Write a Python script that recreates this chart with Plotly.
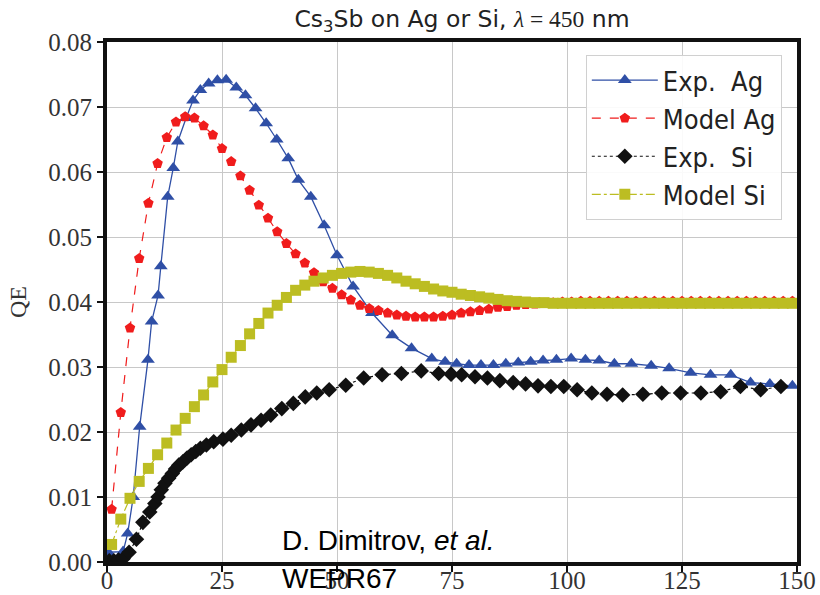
import plotly.graph_objects as go

# ---------------- data ----------------
exp_ag_x = [0.3, 3.5, 4.5, 5.7, 7.1, 8.9, 9.7, 11.1, 11.7, 13.2, 14.4, 15.4, 17.2, 18.7,
            20.3, 22.1, 24.0, 25.9, 28.1, 30.1, 32.3, 34.6, 36.9, 39.4, 41.6, 44.3, 47.2,
            50.0, 53.5, 57.6, 62.0, 66.2, 70.6, 73.5, 76.0, 78.7, 81.3, 84.0, 86.7, 89.4,
            92.1, 94.8, 97.7, 100.9, 104.0, 107.0, 110.3, 114.0, 118.3, 122.2, 126.9,
            131.2, 135.6, 139.9, 144.1, 149.0]
exp_ag_y = [0.0015, 0.0016, 0.0044, 0.0100, 0.0208, 0.0311, 0.0370, 0.0410, 0.0455, 0.0562,
            0.0606, 0.0647, 0.0683, 0.0710, 0.0726, 0.0736, 0.0741, 0.0742, 0.0730, 0.0718,
            0.0698, 0.0675, 0.0650, 0.0621, 0.0588, 0.0562, 0.0518, 0.0472, 0.0424, 0.0383,
            0.0349, 0.0329, 0.0313, 0.0308, 0.0305, 0.0303, 0.0303, 0.0303, 0.0305, 0.0307,
            0.0308, 0.0310, 0.0311, 0.0313, 0.0311, 0.0310, 0.0305, 0.0305, 0.0302, 0.0298,
            0.0291, 0.0288, 0.0288, 0.0276, 0.0274, 0.0271]

model_x = list(range(1, 150, 2))
model_ag_y = [0.0081, 0.0230, 0.0360, 0.0467, 0.0552, 0.0613, 0.0653, 0.0677, 0.0685, 0.0683,
              0.0671, 0.0657, 0.0636, 0.0616, 0.0594, 0.0572, 0.0549, 0.0529, 0.0508, 0.0490,
              0.0474, 0.0460, 0.0445, 0.0431, 0.0421, 0.0411, 0.0403, 0.0395, 0.0390, 0.0387,
              0.0383, 0.0380, 0.0378, 0.0377, 0.0377, 0.0377, 0.0378, 0.0380, 0.0383, 0.0385,
              0.0387, 0.0389, 0.0392, 0.0393, 0.0395, 0.0396, 0.0397, 0.0398, 0.0399, 0.0400,
              0.0400, 0.0401, 0.0401, 0.0401, 0.0401, 0.0401, 0.0401, 0.0401, 0.0401, 0.0401,
              0.0401, 0.0401, 0.0401, 0.0401, 0.0401, 0.0401, 0.0401, 0.0401, 0.0401, 0.0401,
              0.0401, 0.0401, 0.0401, 0.0401, 0.0401]
model_si_y = [0.0027, 0.0066, 0.0098, 0.0124, 0.0144, 0.0165, 0.0183, 0.0203, 0.0221, 0.0239,
              0.0257, 0.0277, 0.0296, 0.0315, 0.0333, 0.0351, 0.0367, 0.0383, 0.0395, 0.0407,
              0.0418, 0.0426, 0.0432, 0.0437, 0.0441, 0.0444, 0.0446, 0.0447, 0.0446, 0.0444,
              0.0441, 0.0437, 0.0432, 0.0428, 0.0424, 0.0420, 0.0417, 0.0415, 0.0412, 0.0410,
              0.0408, 0.0406, 0.0404, 0.0402, 0.0401, 0.0400, 0.0399, 0.0399, 0.0398, 0.0398,
              0.0398, 0.0398, 0.0398, 0.0398, 0.0398, 0.0398, 0.0398, 0.0398, 0.0398, 0.0398,
              0.0398, 0.0398, 0.0398, 0.0398, 0.0398, 0.0398, 0.0398, 0.0398, 0.0398, 0.0398,
              0.0398, 0.0398, 0.0398, 0.0398, 0.0398]

exp_si_x = [0.5, 1.5, 2.5, 3.5, 4.8, 6.4, 7.8, 9.3, 10.4, 11.1, 11.8, 12.6, 13.4, 14.2, 14.9,
            15.6, 16.5, 17.4, 18.3, 19.3, 20.3, 21.6, 23.2, 25.2, 27.0, 29.2, 31.3, 33.5,
            35.6, 38.0, 40.5, 43.1, 45.6, 48.3, 51.9, 55.8, 59.8, 64.0, 68.3, 72.1, 74.8,
            77.1, 80.0, 82.7, 85.4, 88.3, 91.0, 93.7, 96.5, 99.3, 102.2, 105.4, 108.7,
            112.1, 116.5, 120.6, 124.7, 129.1, 133.4, 137.7, 142.1, 146.5]
exp_si_y = [0.0002, 0.0002, 0.0003, 0.0005, 0.0015, 0.0035, 0.0061, 0.0077, 0.0090, 0.0100,
            0.0111, 0.0121, 0.0129, 0.0136, 0.0143, 0.0149, 0.0154, 0.0160, 0.0165, 0.0170,
            0.0175, 0.0180, 0.0185, 0.0189, 0.0195, 0.0203, 0.0211, 0.0218, 0.0226, 0.0236,
            0.0244, 0.0254, 0.0260, 0.0265, 0.0272, 0.0283, 0.0288, 0.0290, 0.0294, 0.0290,
            0.0289, 0.0288, 0.0285, 0.0283, 0.0279, 0.0276, 0.0274, 0.0271, 0.0270, 0.0270,
            0.0265, 0.0260, 0.0258, 0.0257, 0.0258, 0.0260, 0.0260, 0.0260, 0.0262, 0.0270,
            0.0265, 0.0270]

x_ticks = [0, 25, 50, 75, 100, 125, 150]
y_ticks = [0.00, 0.01, 0.02, 0.03, 0.04, 0.05, 0.06, 0.07, 0.08]
y_tick_labels = ["0.00", "0.01", "0.02", "0.03", "0.04", "0.05", "0.06", "0.07", "0.08"]

serif = "Liberation Serif, DejaVu Serif, serif"
sans_c = "DejaVu Sans Condensed, Liberation Sans Narrow, DejaVu Sans, sans-serif"
sans = "DejaVu Sans, sans-serif"

title_text = ("Cs<sub>3</sub>Sb on Ag or Si, "
              "<span style=\"font-family:'Liberation Serif'\"><i>λ</i> = 450</span> nm")

# ---------------- figure ----------------
BLUE = "#2f4fa6"
RED = "#f01c1c"
BLACK = "#111111"
OLIVE = "#bcbd22"

fig = go.Figure()
fig.add_trace(go.Scatter(
    x=exp_ag_x, y=exp_ag_y, name="Exp.  Ag", mode="lines+markers",
    line=dict(color=BLUE, width=1.3, dash="solid"),
    marker=dict(symbol="triangle-up", size=12, color=BLUE)))
fig.add_trace(go.Scatter(
    x=model_x, y=model_ag_y, name="Model Ag", mode="lines+markers",
    line=dict(color=RED, width=1.2, dash="dash"),
    marker=dict(symbol="pentagon", size=11, color=RED)))
fig.add_trace(go.Scatter(
    x=exp_si_x, y=exp_si_y, name="Exp.  Si", mode="lines+markers",
    line=dict(color=BLACK, width=1.2, dash="dot"),
    marker=dict(symbol="diamond", size=12, color=BLACK)))
fig.add_trace(go.Scatter(
    x=model_x, y=model_si_y, name="Model Si", mode="lines+markers",
    line=dict(color=OLIVE, width=1.2, dash="dashdot"),
    marker=dict(symbol="square", size=11, color=OLIVE)))

fig.update_layout(
    width=820, height=595,
    margin=dict(l=107, r=23, t=42, b=33, autoexpand=False),
    paper_bgcolor="white", plot_bgcolor="white",
    title=dict(text=title_text, x=462 / 820, xanchor="center",
               y=1 - 19 / 595, yanchor="middle",
               font=dict(family=sans, size=23.5, color="#222222")),
    showlegend=True,
    legend=dict(x=0.978, y=0.975, xanchor="right", yanchor="top",
                bgcolor="rgba(255,255,255,0.9)", bordercolor="#d0d0d0", borderwidth=1,
                font=dict(family=sans_c, size=27, color="#222222"),
                itemwidth=66, tracegroupgap=0),
    xaxis=dict(range=[0, 150], tickvals=x_ticks, ticktext=[str(v) for v in x_ticks],
               automargin=False, ticklabelstandoff=-13,
               showgrid=True, gridcolor="#c8c8c8", gridwidth=1.3,
               showline=True, linecolor="#111111", linewidth=4, mirror=True,
               ticks="outside", ticklen=6, tickwidth=1.5, tickcolor="#111111",
               tickfont=dict(family=serif, size=25, color="#333333"), zeroline=False),
    yaxis=dict(range=[0, 0.08], tickvals=y_ticks, ticktext=y_tick_labels,
               automargin=False,
               showgrid=True, gridcolor="#c8c8c8", gridwidth=1.3,
               showline=True, linecolor="#111111", linewidth=4, mirror=True,
               ticks="outside", ticklen=6, tickwidth=1.5, tickcolor="#111111",
               tickfont=dict(family=serif, size=25, color="#333333"), zeroline=False,
               title=dict(text="QE", font=dict(family=serif, size=24, color="#333333"),
                          standoff=16)),
)

fig.add_annotation(text="D. Dimitrov, <i>et al.</i>", xref="paper", yref="paper",
                   x=(280 - 107) / 690, y=(562 - 540) / 520, xanchor="left", yanchor="middle",
                   showarrow=False, font=dict(family="Liberation Sans, Arial, sans-serif",
                                              size=28, color="black"))
fig.add_annotation(text="WEPR67", xref="paper", yref="paper",
                   x=(280 - 107) / 690, y=(562 - 578) / 520, xanchor="left", yanchor="middle",
                   showarrow=False, font=dict(family="Liberation Sans, Arial, sans-serif",
                                              size=28, color="black"))

fig.write_html("out.html")
